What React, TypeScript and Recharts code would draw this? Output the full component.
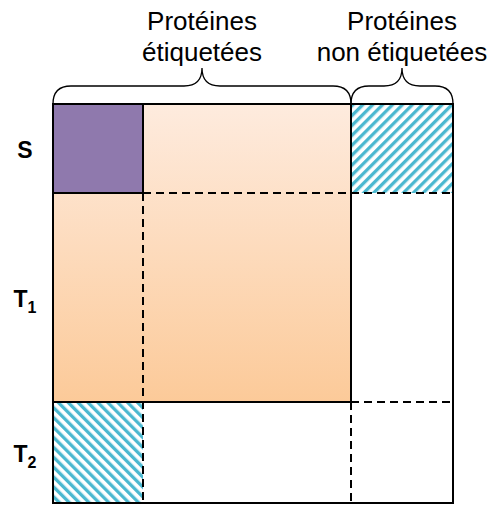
import {
  ComposedChart,
  XAxis,
  YAxis,
  Scatter,
  ReferenceArea,
  ReferenceLine,
} from 'recharts'

// column / row boundaries (matrix units)
const colEdges = [0, 90, 298, 400]
const rowEdges = [0, 89, 298, 399]

// column groups shown with a brace on top
const groupSpans = [
  [0, 2],
  [2, 3],
]
const groupLabels = [
  ['Protéines', 'étiquetées'],
  ['Protéines', 'non étiquetées'],
]

// row labels: letter + subscript
const rowNames = ['S', 'T', 'T']
const rowSubs = ['', '1', '2']

// filled blocks: [col from, col to, row from, row to, fill]
const blocks: [number, number, number, number, string][] = [
  [0, 2, 0, 2, 'url(#peach)'],
  [0, 1, 0, 1, '#8f79ad'],
  [2, 3, 0, 1, 'url(#hatchR)'],
  [0, 1, 2, 3, 'url(#hatchL)'],
]

// inner separators: [vertical?, at edge, from edge, to edge, dashed?]
const separators: [boolean, number, number, number, boolean][] = [
  [true, 1, 0, 1, false],
  [false, 1, 0, 1, false],
  [true, 2, 0, 2, false],
  [false, 2, 0, 2, false],
  [true, 1, 1, 3, true],
  [false, 1, 1, 3, true],
  [true, 2, 2, 3, true],
  [false, 2, 2, 3, true],
]

const FONT = '"Liberation Sans", Arial, sans-serif'

const lastCol = colEdges.length - 1
const lastRow = rowEdges.length - 1
const groupTicks = groupSpans.map(([a, b]) => (colEdges[a] + colEdges[b]) / 2)
const rowTicks = rowNames.map((_, i) => (rowEdges[i] + rowEdges[i + 1]) / 2)
// matrix corners, used so the chart has data to lay out
const corners = [
  { x: colEdges[0], y: rowEdges[0] },
  { x: colEdges[lastCol], y: rowEdges[lastRow] },
]

function GroupTick(props: any) {
  const { x, y, index } = props
  const lines = groupLabels[index] || []
  return (
    <g>
      {lines.map((t, i) => (
        <text
          key={i}
          x={x}
          y={y - 74 + i * 31}
          textAnchor="middle"
          fontFamily={FONT}
          fontSize={26}
          fill="#000"
        >
          {t}
        </text>
      ))}
    </g>
  )
}

function RowTick(props: any) {
  const { x, y, index } = props
  return (
    <text
      x={x - 28}
      y={y + 9}
      textAnchor="middle"
      fontFamily={FONT}
      fontWeight="bold"
      fontSize={23}
      fill="#000"
    >
      {rowNames[index]}
      {rowSubs[index] ? (
        <tspan fontSize={16} dy={6}>
          {rowSubs[index]}
        </tspan>
      ) : null}
    </text>
  )
}

function Brace(props: any) {
  const { x, y, width, height } = props
  const yb = y + height
  const ym = y + height / 2
  const yt = y
  const xc = x + width / 2
  const r = 18
  const d =
    `M${x},${yb} Q${x},${ym} ${x + r},${ym} L${xc - r},${ym} ` +
    `Q${xc},${ym} ${xc},${yt} Q${xc},${ym} ${xc + r},${ym} ` +
    `L${x + width - r},${ym} Q${x + width},${ym} ${x + width},${yb}`
  return <path d={d} fill="none" stroke="#000" strokeWidth={1.3} />
}

export default function App() {
  return (
    <div style={{ position: 'absolute', left: 0, top: 0, background: '#fff' }}>
      <ComposedChart
        width={496}
        height={505}
        data={corners}
        margin={{ top: 0, right: 43, bottom: 2, left: 0 }}
      >
        <defs>
          <linearGradient id="peach" x1="0" y1="0" x2="0" y2="1">
            <stop offset="0%" stopColor="#feebde" />
            <stop offset="100%" stopColor="#fcca99" />
          </linearGradient>
          <pattern
            id="hatchR"
            patternUnits="userSpaceOnUse"
            width={7}
            height={7}
            patternTransform="rotate(45)"
          >
            <rect x={0} y={0} width={7} height={7} fill="#fff" />
            <rect x={0} y={0} width={3.3} height={7} fill="#4bb8d0" />
          </pattern>
          <pattern
            id="hatchL"
            patternUnits="userSpaceOnUse"
            width={7}
            height={7}
            patternTransform="rotate(-45)"
          >
            <rect x={0} y={0} width={7} height={7} fill="#fff" />
            <rect x={0} y={0} width={3.3} height={7} fill="#4bb8d0" />
          </pattern>
        </defs>
        <XAxis
          type="number"
          dataKey="x"
          orientation="top"
          domain={[colEdges[0], colEdges[lastCol]]}
          ticks={groupTicks}
          height={104}
          tickSize={0}
          tickMargin={0}
          axisLine={false}
          tickLine={false}
          tick={<GroupTick />}
          interval={0}
        />
        <YAxis
          type="number"
          dataKey="y"
          reversed
          domain={[rowEdges[0], rowEdges[lastRow]]}
          ticks={rowTicks}
          width={53}
          tickSize={0}
          tickMargin={0}
          axisLine={false}
          tickLine={false}
          tick={<RowTick />}
          interval={0}
        />
        {blocks.map(([c0, c1, r0, r1, fill], i) => (
          <ReferenceArea
            key={`b${i}`}
            x1={colEdges[c0]}
            x2={colEdges[c1]}
            y1={rowEdges[r0]}
            y2={rowEdges[r1]}
            fill={fill}
            fillOpacity={1}
            stroke="none"
            ifOverflow="visible"
          />
        ))}
        {separators.map(([vert, at, from, to, dashed], i) => (
          <ReferenceLine
            key={`s${i}`}
            segment={
              vert
                ? [
                    { x: colEdges[at], y: rowEdges[from] },
                    { x: colEdges[at], y: rowEdges[to] },
                  ]
                : [
                    { x: colEdges[from], y: rowEdges[at] },
                    { x: colEdges[to], y: rowEdges[at] },
                  ]
            }
            stroke="#000"
            strokeWidth={2}
            strokeDasharray={dashed ? '8 5' : undefined}
            ifOverflow="visible"
          />
        ))}
        <ReferenceArea
          x1={colEdges[0]}
          x2={colEdges[lastCol]}
          y1={rowEdges[0]}
          y2={rowEdges[lastRow]}
          fill="none"
          stroke="#000"
          strokeWidth={2}
          ifOverflow="visible"
        />
        {groupSpans.map(([a, b], i) => (
          <ReferenceArea
            key={`g${i}`}
            x1={colEdges[a]}
            x2={colEdges[b]}
            y1={-36}
            y2={0}
            ifOverflow="visible"
            shape={<Brace />}
          />
        ))}
        <Scatter
          dataKey="y"
          isAnimationActive={false}
          fill="none"
          shape={() => <g />}
        />
      </ComposedChart>
    </div>
  )
}
